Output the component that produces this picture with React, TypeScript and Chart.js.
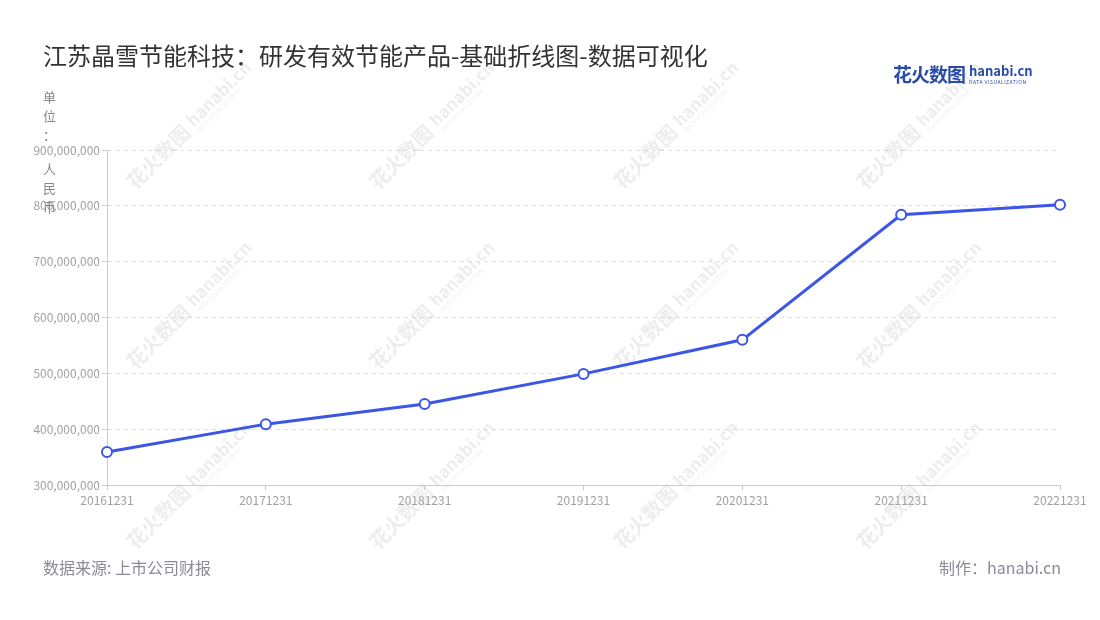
import React, { useEffect, useRef } from 'react';
import { Chart, registerables } from 'chart.js';

Chart.register(...registerables);

const years = ['20161231', '20171231', '20181231', '20191231', '20201231', '20211231', '20221231'];
const rdSpend = [359000000, 409000000, 445000000, 499000000, 560000000, 784000000, 802000000];
const yMin = 300000000;
const yMax = 900000000;
const yStep = 100000000;

const font = '"Noto Sans CJK SC", "Noto Sans", sans-serif';

// faint repeated logo behind the plot
const watermarkPlugin = {
  id: 'watermark',
  beforeDatasetsDraw(chart: Chart) {
    const ctx = chart.ctx;
    const cols = [185, 428, 672, 915];
    const rows = [130, 310, 490];
    ctx.save();
    ctx.fillStyle = 'rgba(190, 190, 190, 0.28)';
    for (const cx of cols) {
      for (const cy of rows) {
        ctx.save();
        ctx.translate(cx, cy);
        ctx.rotate(-Math.PI / 4);
        ctx.textBaseline = 'middle';
        ctx.textAlign = 'left';
        ctx.font = `bold 20px ${font}`;
        ctx.fillText('花火数图', -78, 0);
        ctx.font = `bold 17px ${font}`;
        ctx.fillText('hanabi.cn', 8, -2);
        ctx.font = `6px ${font}`;
        ctx.fillText('DATA VISUALIZATION', 9, 10);
        ctx.restore();
      }
    }
    ctx.restore();
  },
};

const LineChart: React.FC = () => {
  const chartRef = useRef<HTMLCanvasElement>(null);

  useEffect(() => {
    if (!chartRef.current) return;
    const ctx = chartRef.current.getContext('2d');
    if (!ctx) return;

    const chart = new Chart(ctx, {
      type: 'line',
      data: {
        labels: years,
        datasets: [
          {
            label: '研发费用',
            data: rdSpend,
            borderColor: '#3b55e6',
            borderWidth: 3,
            pointRadius: 5,
            pointBorderWidth: 2,
            pointBackgroundColor: '#ffffff',
            pointBorderColor: '#3b55e6',
            tension: 0,
          },
        ],
      },
      plugins: [watermarkPlugin],
      options: {
        responsive: false,
        animation: false,
        devicePixelRatio: 1,
        layout: { padding: { left: 0, right: 40, top: 150, bottom: 0 } },
        plugins: {
          legend: { display: false },
          tooltip: { enabled: false },
        },
        scales: {
          x: {
            offset: false,
            afterFit: (scale: any) => {
              scale.height = 135;
            },
            grid: {
              drawOnChartArea: false,
              drawTicks: true,
              tickLength: 5,
              color: '#cccccc',
            },
            border: { color: '#cccccc', width: 1 },
            ticks: {
              color: '#a0a0a0',
              padding: 3,
              maxRotation: 0,
              autoSkip: false,
              font: { size: 12, family: font },
            },
          },
          y: {
            min: yMin,
            max: yMax,
            afterFit: (scale: any) => {
              scale.width = 107;
            },
            grid: {
              color: '#e0e0e0',
              tickLength: 5,
              tickColor: '#cccccc',
              tickBorderDash: [],
            },
            // dash here styles the grid lines; the axis line itself stays solid
            border: { color: '#cccccc', width: 1, dash: [4, 4] },
            ticks: {
              stepSize: yStep,
              color: '#a0a0a0',
              padding: 2,
              font: { size: 12, family: font },
              callback: (v: any) => Number(v).toLocaleString('en-US'),
            },
          },
        },
      },
    });

    return () => {
      chart.destroy();
    };
  }, []);

  return <canvas ref={chartRef} width={1100} height={620} style={{ position: 'absolute', left: 0, top: 0 }} />;
};

const App: React.FC = () => {
  const unitChars = ['单', '位', '：'];
  const unitChars2 = ['人', '民', '币'];
  return (
    <div
      style={{
        position: 'fixed',
        left: 0,
        top: 0,
        width: 1100,
        height: 620,
        background: '#ffffff',
        fontFamily: font,
        overflow: 'hidden',
      }}
    >
      <LineChart />
      <div style={{ position: 'absolute', left: 43, top: 37, fontSize: 24, color: '#333333', whiteSpace: 'nowrap' }}>
        江苏晶雪节能科技：研发有效节能产品-基础折线图-数据可视化
      </div>
      <div style={{ position: 'absolute', left: 893, top: 60, display: 'flex', alignItems: 'center', color: '#2b4ba8' }}>
        <span style={{ fontSize: 19, fontWeight: 700, letterSpacing: -1 }}>花火数图</span>
        <span style={{ marginLeft: 4, display: 'flex', flexDirection: 'column', lineHeight: 1 }}>
          <span style={{ fontSize: 13, fontWeight: 700 }}>hanabi.cn</span>
          <span style={{ fontSize: 5, letterSpacing: 0.5, marginTop: 2 }}>DATA VISUALIZATION</span>
        </span>
      </div>
      <div style={{ position: 'absolute', left: 43, top: 87, fontSize: 13, color: '#888888', lineHeight: '19px', textAlign: 'center' }}>
        {unitChars.map((c) => (
          <div key={c}>{c}</div>
        ))}
        <div style={{ height: 15 }} />
        {unitChars2.map((c) => (
          <div key={c}>{c}</div>
        ))}
      </div>
      <div style={{ position: 'absolute', left: 43, top: 555, fontSize: 16, color: '#8a8a99' }}>数据来源: 上市公司财报</div>
      <div style={{ position: 'absolute', right: 39, top: 555, fontSize: 16, color: '#8a8a99' }}>制作：hanabi.cn</div>
    </div>
  );
};

export default App;
